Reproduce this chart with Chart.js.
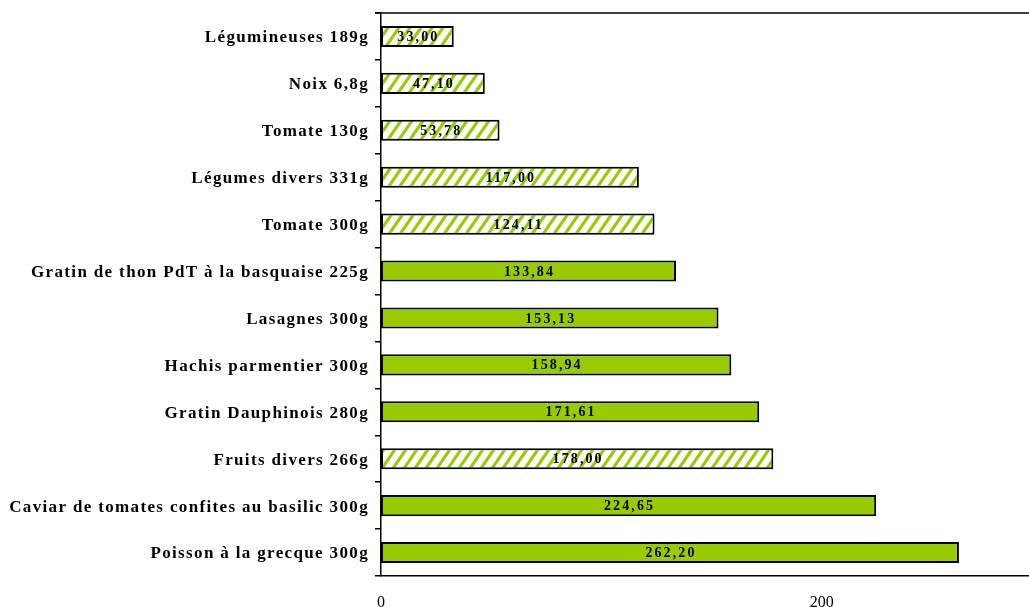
<!DOCTYPE html>
<html><head><meta charset="utf-8">
<script src="https://cdn.jsdelivr.net/npm/chart.js@4.4.1/dist/chart.umd.min.js"></script>
<style>html,body{margin:0;padding:0;background:#fff;overflow:hidden}</style>
</head><body>
<canvas id="c" width="1029" height="607"></canvas>
<script>
const categories = ['Légumineuses 189g','Noix 6,8g','Tomate 130g','Légumes divers 331g','Tomate 300g','Gratin de thon PdT à la basquaise 225g','Lasagnes 300g','Hachis parmentier 300g','Gratin Dauphinois 280g','Fruits divers 266g','Caviar de tomates confites au basilic 300g','Poisson à la grecque 300g'];
const produitsBruts = [33.00,47.10,53.78,117.00,124.11,null,null,null,null,178.00,null,null];
const platsCuisines = [null,null,null,null,null,133.84,153.13,158.94,171.61,null,224.65,262.20];
const xTickValues = [0,200];

const GREEN = '#99CC00';
function makeHatch(){
  const w = 11, h = 16, c = document.createElement('canvas');
  c.width = w; c.height = h;
  const g = c.getContext('2d');
  g.fillStyle = '#fff'; g.fillRect(0,0,w,h);
  g.strokeStyle = GREEN; g.lineWidth = 3.2;
  for (const k of [-1,0,1]) {
    g.beginPath(); g.moveTo(k*w - w, 2*h); g.lineTo(k*w + 2*w, -h); g.stroke();
  }
  return document.getElementById('c').getContext('2d').createPattern(c,'repeat');
}

const axisSpacing = {id:'axisSpacing',
  beforeDraw(chart){ chart.ctx.letterSpacing = '1.35px'; },
  beforeDatasetsDraw(chart){
    chart.ctx.letterSpacing = '0px';
    const a = chart.chartArea, ctx = chart.ctx;
    ctx.save(); ctx.strokeStyle = '#000'; ctx.lineWidth = 1.5;
    ctx.beginPath(); ctx.moveTo(a.left - 6, a.top); ctx.lineTo(a.right, a.top); ctx.stroke();
    ctx.restore();
  }
};
const valueLabels = {id:'valueLabels',
  afterDatasetsDraw(chart){
    const ctx = chart.ctx;
    ctx.save();
    ctx.font = 'bold 14px "Liberation Serif"';
    ctx.letterSpacing = '2.1px';
    ctx.fillStyle = '#000'; ctx.textAlign = 'center'; ctx.textBaseline = 'middle';
    chart.data.datasets.forEach((ds,i)=>{
      chart.getDatasetMeta(i).data.forEach((el,j)=>{
        const v = ds.data[j]; if (v == null) return;
        const p = el.getProps(['x','y','base'], true);
        ctx.fillText(v.toFixed(2).replace('.',','), (p.x + p.base)/2 + 1, p.y + 1);
      });
    });
    ctx.restore();
    ctx.letterSpacing = '0px';
  }
};

new Chart(document.getElementById('c'), {
  type:'bar',
  data:{
    labels: categories,
    datasets:[
      {label:'Produits bruts', data: produitsBruts, backgroundColor: makeHatch(), borderColor:'#000', borderWidth:2, borderSkipped:false, barPercentage:0.45, categoryPercentage:1},
      {label:'Plats cuisinés', data: platsCuisines, backgroundColor: GREEN, borderColor:'#000', borderWidth:2, borderSkipped:false, barPercentage:0.45, categoryPercentage:1}
    ]
  },
  options:{
    responsive:false, animation:false, indexAxis:'y',
    layout:{padding:{top:13,left:0,right:0,bottom:0}},
    plugins:{legend:{display:false}, tooltip:{enabled:false}},
    scales:{
      x:{type:'linear', min:0, max:294, stacked:true,
        afterBuildTicks: s => { s.ticks = xTickValues.map(v => ({value:v})); },
        grid:{display:false}, border:{display:true, color:'#000', width:1.5},
        ticks:{font:{family:'Liberation Serif', size:16}, color:'#000', padding:9, maxRotation:0, autoSkip:false, z:1},
        afterFit: s => { s.height = 31; s.paddingLeft = 0; s.paddingRight = 0; }
      },
      y:{stacked:true,
        grid:{display:true, drawOnChartArea:false, drawTicks:true, tickLength:6, color:'#000', lineWidth:1.5, offset:true},
        border:{display:true, color:'#000', width:1.5},
        ticks:{font:{family:'Liberation Serif', size:17, weight:'bold'}, color:'#000', padding:6, autoSkip:false, labelOffset:1.5},
        afterFit: s => { s.width = 381; s.paddingTop = 0; s.paddingBottom = 0; }
      }
    }
  },
  plugins:[axisSpacing, valueLabels]
});
</script>
</body></html>
